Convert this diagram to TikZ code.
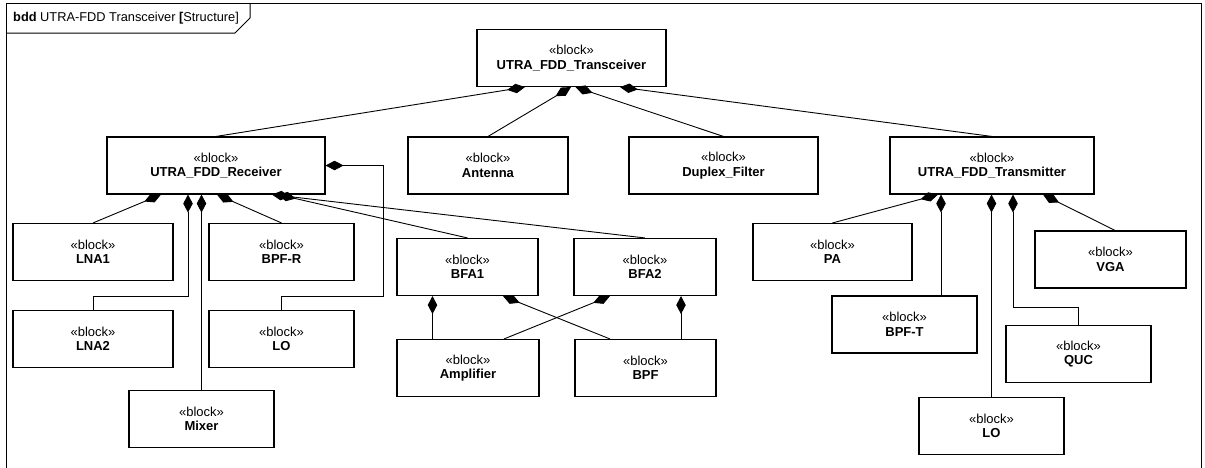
\documentclass[tikz,border=0pt]{standalone}
\usepackage{fontspec}
\setmainfont{Liberation Sans}
\usetikzlibrary{arrows.meta}
\begin{document}
\begin{tikzpicture}[x=1pt,y=-1pt,
  blk/.style={draw=black,line width=1.1pt,fill=white,minimum height=57pt,inner sep=0pt,
    align=center,font=\fontsize{13}{14.5}\selectfont},
  comp/.style={line width=0.9pt,{Diamond[length=18pt,width=9.5pt]}-},
  frame/.style={line width=1pt}]
\useasboundingbox (0,0) rectangle (1205,467);
% frame
\draw[frame] (6,470) -- (6,3.5) -- (1201,3.5) -- (1201,470);
\draw[frame] (6,33) -- (235,33) -- (250,18) -- (250,3.5);
\node[anchor=base west,inner sep=0pt,font=\fontsize{12.8}{14}\selectfont] (title) at (13,21)
  {\textbf{bdd} UTRA-FDD Transceiver \textbf{[}Structure]};
% blocks
\node[blk,minimum width=189pt] (tr) at (571.5,58) {«block»\\\textbf{UTRA\_FDD\_Transceiver}};
\node[blk,minimum width=218pt] (rx) at (216,165.5) {«block»\\\textbf{UTRA\_FDD\_Receiver}};
\node[blk,minimum width=160pt] (ant) at (488,165.5) {«block»\\\textbf{Antenna}};
\node[blk,minimum width=189pt] (dup) at (723.5,165.5) {«block»\\\textbf{Duplex\_Filter}};
\node[blk,minimum width=204pt] (tx) at (992,165.5) {«block»\\\textbf{UTRA\_FDD\_Transmitter}};
\node[blk,minimum width=160pt] (lna1) at (93,252) {«block»\\\textbf{LNA1}};
\node[blk,minimum width=145pt] (bpfr) at (281.5,252) {«block»\\\textbf{BPF-R}};
\node[blk,minimum width=160pt] (lna2) at (93,339) {«block»\\\textbf{LNA2}};
\node[blk,minimum width=145pt] (lor) at (281.5,339) {«block»\\\textbf{LO}};
\node[blk,minimum width=145pt] (mix) at (201.5,419) {«block»\\\textbf{Mixer}};
\node[blk,minimum width=141pt] (bfa1) at (467.5,267) {«block»\\\textbf{BFA1}};
\node[blk,minimum width=142pt] (bfa2) at (645,267) {«block»\\\textbf{BFA2}};
\node[blk,minimum width=142pt] (amp) at (468,368) {«block»\\\textbf{Amplifier}};
\node[blk,minimum width=141pt] (bpf) at (645.5,368) {«block»\\\textbf{BPF}};
\node[blk,minimum width=159pt] (pa) at (832.5,252) {«block»\\\textbf{PA}};
\node[blk,minimum width=151pt] (vga) at (1110.5,259.5) {«block»\\\textbf{VGA}};
\node[blk,minimum width=145pt] (bpft) at (904.5,324.5) {«block»\\\textbf{BPF-T}};
\node[blk,minimum width=145pt] (quc) at (1078.5,354) {«block»\\\textbf{QUC}};
\node[blk,minimum width=145pt] (lot) at (991.5,426) {«block»\\\textbf{LO}};
% transceiver parts
\draw[comp] ([xshift=-46.5pt]tr.south) -- (rx.north);
\draw[comp] ([xshift=-0.5pt]tr.south) -- (ant.north);
\draw[comp] ([xshift=4pt]tr.south) -- (dup.north);
\draw[comp] ([xshift=48.5pt]tr.south) -- (tx.north);
% receiver parts
\draw[comp] ([xshift=-55pt]rx.south) -- (lna1.north);
\draw[comp] ([xshift=-28pt]rx.south) |- ([yshift=13.5pt]lna2.north) -- (lna2.north);
\draw[comp] (rx.south -| mix.north) -- (mix.north);
\draw[comp] ([xshift=1pt]rx.south) -- (bpfr.north);
\coordinate (lorbend) at (383,296.5);
\draw[comp] (rx.east) -| (lorbend) -| (lor.north);
\draw[comp] ([xshift=62pt]rx.south) -- (bfa1.north);
\draw[comp] ([xshift=56pt]rx.south) -- (bfa2.north);
% BFA parts
\draw[comp] ([xshift=-35pt]bfa1.south) -- ([xshift=-35.5pt]amp.north);
\draw[comp] ([xshift=35.5pt]bfa1.south) -- ([xshift=-35.5pt]bpf.north);
\draw[comp] ([xshift=-35pt]bfa2.south) -- ([xshift=36pt]amp.north);
\draw[comp] ([xshift=36pt]bfa2.south) -- ([xshift=35.5pt]bpf.north);
% transmitter parts
\draw[comp] ([xshift=-54pt]tx.south) -- (pa.north);
\draw[comp] ([xshift=-51pt]tx.south) -- ([xshift=36.5pt]bpft.north);
\draw[comp] (tx.south -| lot.north) -- (lot.north);
\draw[comp] ([xshift=21pt]tx.south) |- ([yshift=18pt]quc.north) -- (quc.north);
\draw[comp] ([xshift=51pt]tx.south) -- ([xshift=4.5pt]vga.north);
\end{tikzpicture}
\end{document}
